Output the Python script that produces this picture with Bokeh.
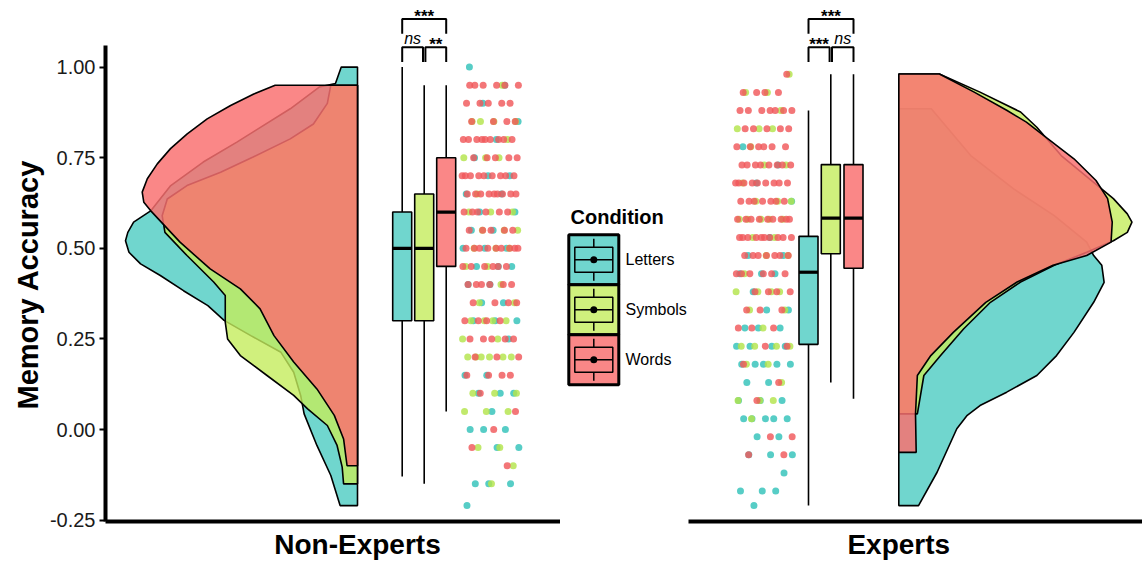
import numpy as np
from bokeh.plotting import figure
from bokeh.layouts import row
from bokeh.models import Range1d, FixedTicker, NumeralTickFormatter, Title
from bokeh.embed import file_html
from bokeh.resources import INLINE
from bokeh.core.properties import value

FONT = "Liberation Sans"

# ---------------- data ----------------
groups = ["Letters", "Symbols", "Words"]
panels = ["Non-Experts", "Experts"]

# half-violin density profiles (accuracy, relative density)
ne_letters_y = [1.00, 0.955, 0.945, 0.885, 0.793, 0.738, 0.673, 0.604, 0.572, 0.544, 0.521, 0.489, 0.457,
                0.425, 0.383, 0.342, 0.301, 0.259, 0.213, 0.158, 0.094, 0.043, -0.044, -0.127, -0.21]
ne_letters_d = [0.07, 0.095, 0.165, 0.29, 0.52, 0.665, 0.805, 0.89, 0.965, 0.99, 1.00, 0.985, 0.935,
                0.85, 0.75, 0.645, 0.575, 0.46, 0.33, 0.275, 0.245, 0.23, 0.175, 0.115, 0.075]
ne_symbols_y = [0.95, 0.90, 0.843, 0.802, 0.752, 0.710, 0.673, 0.636, 0.590, 0.544, 0.480, 0.407,
                0.370, 0.296, 0.250, 0.204, 0.149, 0.094, 0.057, 0.011, -0.044, -0.104, -0.15]
ne_symbols_d = [0.115, 0.13, 0.19, 0.29, 0.45, 0.59, 0.735, 0.82, 0.842, 0.83, 0.735, 0.62,
                0.57, 0.57, 0.56, 0.505, 0.39, 0.275, 0.215, 0.13, 0.088, 0.066, 0.06]
ne_words_y = [0.95, 0.926, 0.894, 0.857, 0.816, 0.775, 0.733, 0.692, 0.655, 0.627, 0.604, 0.517,
              0.443, 0.388, 0.333, 0.259, 0.186, 0.112, 0.039, -0.026, -0.10]
ne_words_d = [0.355, 0.447, 0.547, 0.648, 0.734, 0.806, 0.863, 0.906, 0.928, 0.921, 0.892, 0.765,
              0.635, 0.505, 0.42, 0.36, 0.275, 0.175, 0.10, 0.06, 0.045]

ex_letters_y = [0.885, 0.756, 0.664, 0.590, 0.517, 0.480, 0.453, 0.406, 0.351, 0.268, 0.204, 0.149,
                0.103, 0.066, 0.039, 0.002, -0.118, -0.21]
ex_letters_d = [0.14, 0.31, 0.495, 0.67, 0.81, 0.84, 0.875, 0.885, 0.84, 0.755, 0.68, 0.595,
                0.465, 0.35, 0.295, 0.25, 0.165, 0.085]
ex_symbols_y = [0.981, 0.931, 0.876, 0.834, 0.756, 0.682, 0.637, 0.595, 0.572, 0.544, 0.521, 0.489,
                0.453, 0.407, 0.351, 0.278, 0.204, 0.149, 0.043]
ex_symbols_d = [0.175, 0.35, 0.525, 0.595, 0.70, 0.84, 0.925, 0.985, 1.005, 0.985, 0.925, 0.81,
                0.67, 0.525, 0.395, 0.28, 0.18, 0.108, 0.08]
ex_words_y = [0.981, 0.931, 0.881, 0.848, 0.811, 0.747, 0.687, 0.637, 0.572, 0.517, 0.480, 0.453,
              0.407, 0.351, 0.268, 0.204, 0.149, 0.043, -0.063]
ex_words_d = [0.175, 0.325, 0.465, 0.55, 0.625, 0.755, 0.85, 0.90, 0.92, 0.915, 0.81, 0.665,
              0.51, 0.375, 0.235, 0.138, 0.08, 0.072, 0.075]

# boxplot statistics per group (Letters, Symbols, Words)
ne_lower = [-0.13, -0.15, 0.05]
ne_q1 = [0.30, 0.30, 0.45]
ne_med = [0.50, 0.50, 0.60]
ne_q3 = [0.60, 0.65, 0.75]
ne_upper = [1.00, 0.95, 0.95]
ex_lower = [-0.21, 0.13, 0.085]
ex_q1 = [0.235, 0.485, 0.445]
ex_med = [0.434, 0.583, 0.583]
ex_q3 = [0.533, 0.731, 0.731]
ex_upper = [0.88, 0.98, 0.98]

# raw scores: accuracy levels and number of participants per level
ne_levels = [1.00, 0.95, 0.90, 0.85, 0.80, 0.75, 0.70, 0.65, 0.60, 0.55, 0.50, 0.45, 0.40,
             0.35, 0.30, 0.25, 0.20, 0.15, 0.10, 0.05, 0.00, -0.05, -0.10, -0.15, -0.21]
ne_n_letters = [1, 1, 1, 1, 1, 1, 2, 2, 2, 2, 3, 3, 2, 2, 3, 1, 0, 2, 3, 1, 3, 2, 0, 3, 1]
ne_n_symbols = [0, 1, 0, 4, 1, 3, 0, 1, 3, 3, 3, 2, 1, 2, 4, 2, 6, 0, 3, 3, 0, 2, 1, 1, 0]
ne_n_words = [0, 6, 5, 4, 9, 5, 9, 9, 6, 5, 9, 6, 6, 4, 4, 5, 3, 4, 1, 1, 1, 1, 1, 0, 0]

ex_levels = [0.98, 0.93, 0.88, 0.83, 0.78, 0.73, 0.68, 0.63, 0.58, 0.53, 0.48, 0.43, 0.38,
             0.33, 0.28, 0.23, 0.18, 0.13, 0.08, 0.03, -0.02, -0.07, -0.12, -0.17, -0.21]
ex_n_letters = [0, 0, 0, 0, 1, 1, 1, 1, 0, 1, 2, 3, 1, 2, 3, 4, 5, 2, 3, 5, 2, 3, 1, 3, 1]
ex_n_symbols = [1, 2, 1, 3, 1, 2, 1, 3, 5, 2, 2, 1, 4, 2, 1, 4, 2, 1, 3, 1, 0, 0, 0, 0, 0]
ex_n_words = [1, 4, 7, 5, 6, 8, 9, 7, 9, 10, 7, 6, 4, 3, 3, 2, 1, 1, 1, 0, 2, 2, 0, 0, 0]

# pairwise comparisons (group a, group b, label, tier)
ne_sig = [(0, 1, "ns", 0), (1, 2, "**", 0), (0, 2, "***", 1)]
ex_sig = [(0, 1, "***", 0), (1, 2, "ns", 0), (0, 2, "***", 1)]

y_ticks = [-0.25, 0.0, 0.25, 0.50, 0.75, 1.00]

# ---------------- styling / layout ----------------
DENS_FILL = ["#4CCCC2", "#C4EC5C", "#F97070"]
DENS_ALPHA = [0.8, 0.8, 0.84]
BOX_FILL = ["#70D6CE", "#D0F07D", "#FA8787"]
DOT_COL = ["#32C2BA", "#B3E44C", "#F0585A"]

H = 562
BOTTOM = 41
FRAME_BOTTOM = H - BOTTOM
Y1 = 429 / 362.4
Y0 = (429 - FRAME_BOTTOM) / 362.4
DENS_W = 2.32


def make_fig(xr, width, left_border, label, show_y):
    p = figure(width=width, height=H, x_range=xr, y_range=Range1d(Y0, Y1),
               output_backend="svg", toolbar_location=None,
               min_border_left=left_border, min_border_right=0, min_border_top=0,
               min_border_bottom=BOTTOM, y_axis_location="left" if show_y else None)
    p.grid.visible = False
    p.outline_line_color = None
    xa = p.xaxis[0]
    xa.ticker = FixedTicker(ticks=[1])
    xa.major_label_overrides = {1: label}
    xa.major_tick_line_color = None
    xa.minor_tick_line_color = None
    xa.axis_line_width = 4
    xa.axis_line_color = "black"
    xa.major_label_text_font = FONT
    xa.major_label_text_font_size = "28px"
    xa.major_label_text_font_style = "bold"
    xa.major_label_text_color = "black"
    xa.major_label_standoff = 1
    if show_y:
        ya = p.yaxis[0]
        ya.ticker = FixedTicker(ticks=y_ticks)
        ya.formatter = NumeralTickFormatter(format="0.00")
        ya.bounds = (Y0, 1.06)
        ya.axis_line_width = 4
        ya.axis_line_color = "black"
        ya.major_tick_out = 6
        ya.major_tick_in = 0
        ya.major_tick_line_width = 2
        ya.minor_tick_line_color = None
        ya.major_label_text_font = FONT
        ya.major_label_text_font_size = "20px"
        ya.major_label_text_color = "#1a1a1a"
        ya.major_label_standoff = 4
        p.add_layout(Title(text="Memory Accuracy", align="left", offset=112,
                           text_font=FONT, text_font_size="29px", text_font_style="bold",
                           text_color="black", standoff=6), "left")
    return p


def draw_panel(p, dens, side, box_stats, box_x, dots, dot_cx, sig):
    # half violins
    for i, (ys, ds) in enumerate(dens):
        xs = [1 + side * DENS_W * d for d in ds]
        px = [1] + xs + [1]
        py = [ys[0]] + ys + [ys[-1]]
        p.patch(px, py, fill_color=DENS_FILL[i], fill_alpha=DENS_ALPHA[i],
                line_color="black", line_width=1.6)
    # boxplots
    lo, q1, md, q3, up = box_stats
    bw = 0.095
    p.segment(x0=box_x, y0=lo, x1=box_x, y1=up, line_color="black", line_width=1.6)
    p.quad(left=[x - bw for x in box_x], right=[x + bw for x in box_x], bottom=q1, top=q3,
           fill_color=BOX_FILL, line_color="black", line_width=1.6)
    p.segment(x0=[x - bw for x in box_x], y0=md, x1=[x + bw for x in box_x], y1=md,
              line_color="black", line_width=3.2)
    # jittered raw scores
    levels, counts = dots
    k = 0
    for g in range(3):
        xs, ys = [], []
        for lv, n in zip(levels, counts[g]):
            for _ in range(n):
                u = ((k * 0.6180339887 + 0.13) % 1.0) * 2 - 1
                xs.append(dot_cx + 0.285 * u)
                ys.append(lv)
                k += 1
        p.scatter(xs, ys, size=7, fill_color=DOT_COL[g], fill_alpha=0.82, line_color=None)
    # significance brackets
    tier_y = [1.055, 1.133]
    leg = 0.041
    for a, b, lab, t in sig:
        x0, x1 = box_x[a], box_x[b]
        if t == 0:
            x0 += 0.012 if a > 0 else 0
            x1 -= 0.012 if b < 2 else 0
        yt = tier_y[t]
        p.line([x0, x0, x1, x1], [yt - leg, yt, yt, yt - leg], line_color="black", line_width=2)
        star = "*" in lab
        p.text(x=[(x0 + x1) / 2], y=[yt + (0.0075 if star else 0.025)], text=[lab],
               text_align="center", text_baseline="middle", text_font=value(FONT),
               text_font_size="17px" if star else "16px",
               text_font_style="bold" if star else "italic", text_color="black")


# left panel (Non-Experts): density to the left, boxes and dots to the right
left = make_fig(Range1d(1 - 2.52, 1 + 2.03), 560, 105, panels[0], True)
draw_panel(left,
           [(ne_letters_y, ne_letters_d), (ne_symbols_y, ne_symbols_d), (ne_words_y, ne_words_d)],
           -1, (ne_lower, ne_q1, ne_med, ne_q3, ne_upper),
           [1.447, 1.667, 1.887],
           (ne_levels, [ne_n_letters, ne_n_symbols, ne_n_words]), 1 + 1.33, ne_sig)

# right panel (Experts): dots and boxes to the left, density to the right
right = make_fig(Range1d(1 - 2.103, 1 + 2.437), 454, 0, panels[1], False)
draw_panel(right,
           [(ex_letters_y, ex_letters_d), (ex_symbols_y, ex_symbols_d), (ex_words_y, ex_words_d)],
           1, (ex_lower, ex_q1, ex_med, ex_q3, ex_upper),
           [1 - 0.903, 1 - 0.68, 1 - 0.453],
           (ex_levels, [ex_n_letters, ex_n_symbols, ex_n_words]), 1 - 1.348, ex_sig)

# legend (drawn as its own small figure between panels; 1 unit = 1 px)
LW = 128
lg = figure(width=LW, height=H, x_range=Range1d(0, LW), y_range=Range1d(FRAME_BOTTOM, 0),
            output_backend="svg", toolbar_location=None, min_border=0, min_border_bottom=BOTTOM,
            x_axis_location=None, y_axis_location=None)
lg.grid.visible = False
lg.outline_line_color = None
kx = 33.3
ky = [259.3, 309.3, 359.3]
lg.text(x=[10], y=[216.7], text=["Condition"], text_baseline="middle", text_align="left",
        text_font=value(FONT), text_font_size="20px", text_font_style="bold", text_color="black")
lg.rect(x=[kx] * 3, y=ky, width=50, height=50, fill_color=BOX_FILL, line_color="black", line_width=3)
lg.segment(x0=[kx] * 6, y0=[c - 21 for c in ky] + [c + 12.5 for c in ky],
           x1=[kx] * 6, y1=[c - 12.5 for c in ky] + [c + 21 for c in ky],
           line_color="black", line_width=1.5)
lg.rect(x=[kx] * 3, y=ky, width=38, height=25, fill_color=None, line_color="black", line_width=1.5)
lg.segment(x0=[kx - 19] * 3, y0=ky, x1=[kx + 19] * 3, y1=ky, line_color="black", line_width=1.5)
lg.scatter(x=[kx] * 3, y=ky, size=7, fill_color="black", line_color=None)
lg.text(x=[65] * 3, y=ky, text=groups, text_baseline="middle", text_align="left",
        text_font=value(FONT), text_font_size="16px", text_color="black")

layout = row(left, lg, right, spacing=0)
open("out.html", "w").write(file_html(layout, INLINE))
